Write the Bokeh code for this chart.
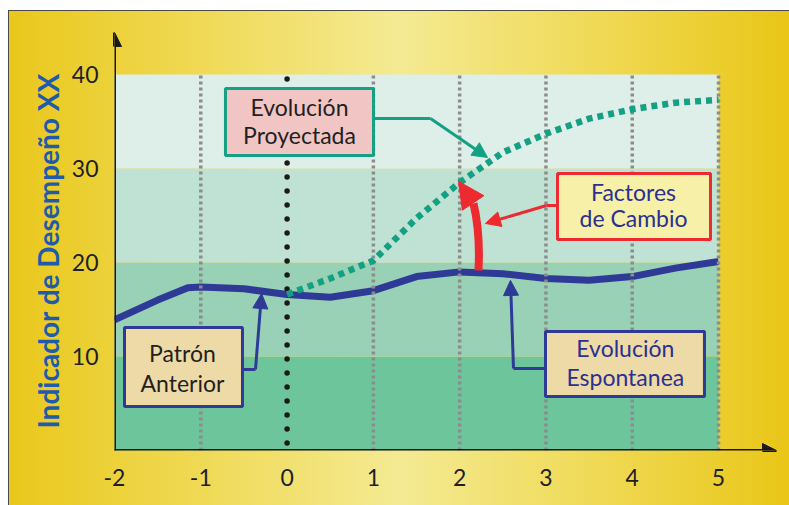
from bokeh.plotting import figure
from bokeh.models import Arrow, NormalHead, FixedTicker, Range1d, Title
from bokeh.core.properties import value
from bokeh.embed import file_html
from bokeh.resources import INLINE

# ---- data -------------------------------------------------------------
# horizontal performance bands
band_bottom = [0, 10, 20, 30]
band_top = [10, 20, 30, 40]
band_colors = ["#6dc59c", "#98d1b5", "#c0e2d4", "#deeee8"]

x_ticks = [-2, -1, 0, 1, 2, 3, 4, 5]
x_tick_labels = ["-2", "-1", "0", "1", "2", "3", "4", "5"]
y_ticks = [10, 20, 30, 40]
grid_x = [-1, 1, 2, 3, 4, 5]

# spontaneous evolution of the indicator (past pattern and its continuation)
spont_x = [-2, -1.5, -1.15, -1, -0.5, 0, 0.5, 1, 1.5, 2, 2.5, 3, 3.5, 4, 4.5, 5]
spont_y = [13.9, 16.0, 17.3, 17.4, 17.2, 16.6, 16.3, 17.0, 18.5, 19.0, 18.8,
           18.3, 18.1, 18.5, 19.4, 20.1]

# projected evolution after the change factors act
proj_x = [0, 0.5, 1, 1.5, 2, 2.5, 3, 3.5, 4, 4.5, 5]
proj_y = [16.6, 18.3, 20.2, 24.7, 28.5, 31.7, 33.7, 35.3, 36.3, 37.0, 37.3]

# callout texts
proj_note = ["Evolución", "Proyectada"]
factor_note = ["Factores", "de Cambio"]
past_note = ["Patrón", "Anterior"]
spont_note = ["Evolución", "Espontanea"]
y_title = "Indicador de Desempeño XX"

# ---- figure -----------------------------------------------------------
X_END = 5.8225
Y_END = 45.74

p = figure(width=789, height=505, output_backend="svg", toolbar_location=None,
           x_range=Range1d(-2, X_END), y_range=Range1d(0, Y_END),
           min_border_left=114, min_border_right=0, min_border_top=20,
           min_border_bottom=55)
p.outline_line_color = None
p.background_fill_color = None
p.border_fill_color = None
p.grid.visible = False
p.styles = {
    "background": (
        "linear-gradient(to right, #e9c71b 0%, #efd84f 22%, #f4ea93 50%, "
        "#efd84f 78%, #e9c617 100%) 9px 11px / 780px 494px no-repeat, "
        "linear-gradient(#4a4a4a, #4a4a4a) 8px 10px / 781px 495px no-repeat, #ffffff"
    )
}

# axes: labels only, the axis lines are drawn as arrows
p.xaxis.ticker = FixedTicker(ticks=x_ticks)
p.xaxis.major_label_overrides = dict(zip(x_ticks, x_tick_labels))
p.yaxis.ticker = FixedTicker(ticks=y_ticks)
for ax in (p.xaxis[0], p.yaxis[0]):
    ax.axis_line_color = None
    ax.major_tick_line_color = None
    ax.minor_tick_line_color = None
    ax.major_label_text_font = "Lato"
    ax.major_label_text_font_size = "23px"
    ax.major_label_text_color = "#231f20"
p.xaxis.major_label_standoff = 12
p.yaxis.major_label_standoff = 10

p.add_layout(Title(text=y_title, align="left", offset=22, standoff=8,
                   text_font="Lato", text_font_style="bold", text_font_size="28px",
                   text_color="#1f5ba8"), "left")

# bands
p.quad(left=x_ticks[0], right=x_ticks[-1], bottom=band_bottom, top=band_top,
       fill_color=band_colors, line_color=None)

# spontaneous evolution
p.line(spont_x, spont_y, line_color="#2f3a96", line_width=7, line_join="round")

# dotted verticals
p.segment(x0=grid_x, y0=0, x1=grid_x, y1=band_top[-1], line_color="#8c8c8c",
          line_width=3.5, line_dash="3 3")
p.segment(x0=[0], y0=[0.8], x1=[0], y1=[band_top[-1]], line_color="#1a1a1a",
          line_width=5.5, line_dash="0 14", line_cap="round")

# projected evolution
p.line(proj_x, proj_y, line_color="#14a082", line_width=6.5, line_dash="6 5")

# change-factor arrow from the spontaneous to the projected curve
RED = "#ec2a2f"
p.quadratic(x0=[2.218], y0=[19.15], x1=[2.16], y1=[26.28], cx=[2.241], cy=[23.19],
            line_color=RED, line_width=8)
p.add_layout(Arrow(x_start=2.16, y_start=26.28, x_end=1.987, y_end=28.62,
                   line_width=0, line_alpha=0,
                   end=NormalHead(size=26, fill_color=RED, line_color=RED)))

NAVY = "#2f3a96"
GREEN = "#14a082"


def callout(box, fill, edge, lines, text_color, text_x, text_y, path, head):
    left, right, bottom, top = box
    px, py = path
    p.line(px[:-1], py[:-1], line_color=edge, line_width=3)
    p.add_layout(Arrow(x_start=px[-2], y_start=py[-2], x_end=px[-1], y_end=py[-1],
                       line_color=edge, line_width=3,
                       end=NormalHead(size=head, fill_color=edge, line_color=edge)))
    p.quad(left=[left], right=[right], bottom=[bottom], top=[top],
           fill_color=fill, line_color=edge, line_width=3)
    p.text(x=[text_x, text_x], y=text_y, text=lines, text_font=value("Lato"),
           text_font_size="23px", text_color=text_color, text_align="center",
           text_baseline="middle")


callout((-0.714, 1.0015, 31.38, 38.51), "#f2c5c5", GREEN, proj_note, "#231f20",
        0.144, [36.49, 33.51], ([1.0015, 1.662, 2.323], [35.32, 35.32, 31.17]), 15)
callout((3.134, 4.907, 22.45, 29.47), "#f7f0a9", RED, factor_note, "#2b3090",
        4.015, [27.45, 24.68], ([3.134, 3.006, 2.299], [26.06, 26.06, 24.15]), 15)
callout((-1.884, -0.517, 4.68, 13.09), "#eedaa6", NAVY, past_note, "#231f20",
        -1.212, [10.32, 7.23], ([-0.517, -0.366, -0.296], [8.62, 8.62, 16.7]), 15)
callout((2.995, 4.837, 5.74, 12.66), "#eedaa6", NAVY, spont_note, "#2b3090",
        3.92, [10.85, 7.77], ([2.995, 2.624, 2.589], [8.72, 8.72, 18.09]), 15)

# axis arrows
AX = "#1a1a1a"
p.add_layout(Arrow(x_start=-2, y_start=-0.15, x_end=-2, y_end=44.47, line_color=AX,
                   line_width=3, end=NormalHead(size=14, fill_color=AX, line_color=AX)))
p.add_layout(Arrow(x_start=-2.017, y_start=0, x_end=5.672, y_end=0, line_color=AX,
                   line_width=3, end=NormalHead(size=14, fill_color=AX, line_color=AX)))

open("out.html", "w").write(file_html(p, INLINE))
